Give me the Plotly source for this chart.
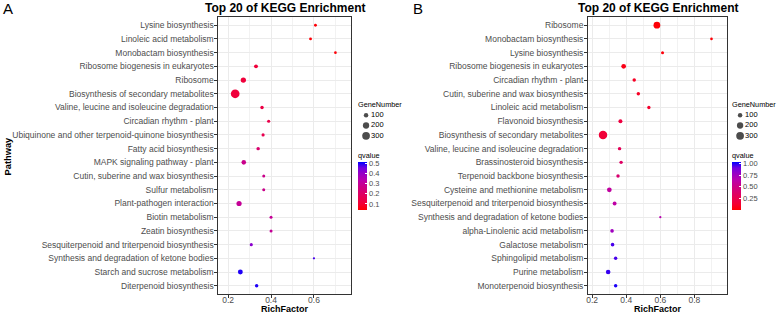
import plotly.graph_objects as go

W, H = 777, 315

# ---------------- data: panel A ----------------
a_pathways = [
    "Lysine biosynthesis",
    "Linoleic acid metabolism",
    "Monobactam biosynthesis",
    "Ribosome biogenesis in eukaryotes",
    "Ribosome",
    "Biosynthesis of secondary metabolites",
    "Valine, leucine and isoleucine degradation",
    "Circadian rhythm - plant",
    "Ubiquinone and other terpenoid-quinone biosynthesis",
    "Fatty acid biosynthesis",
    "MAPK signaling pathway - plant",
    "Cutin, suberine and wax biosynthesis",
    "Sulfur metabolism",
    "Plant-pathogen interaction",
    "Biotin metabolism",
    "Zeatin biosynthesis",
    "Sesquiterpenoid and triterpenoid biosynthesis",
    "Synthesis and degradation of ketone bodies",
    "Starch and sucrose metabolism",
    "Diterpenoid biosynthesis",
]
a_richfactor = [0.607, 0.584, 0.700, 0.330, 0.271, 0.233, 0.358, 0.389, 0.363, 0.340,
                0.273, 0.366, 0.366, 0.251, 0.400, 0.400, 0.308, 0.600, 0.257, 0.333]
a_genenumber = [40, 40, 35, 75, 140, 380, 60, 50, 50, 60,
                105, 45, 45, 135, 45, 45, 50, 25, 120, 60]
a_qvalue = [0.05, 0.05, 0.05, 0.12, 0.12, 0.12, 0.14, 0.15, 0.16, 0.22,
            0.28, 0.28, 0.28, 0.30, 0.30, 0.30, 0.42, 0.48, 0.50, 0.50]

# ---------------- data: panel B ----------------
b_pathways = [
    "Ribosome",
    "Monobactam biosynthesis",
    "Lysine biosynthesis",
    "Ribosome biogenesis in eukaryotes",
    "Circadian rhythm - plant",
    "Cutin, suberine and wax biosynthesis",
    "Linoleic acid metabolism",
    "Flavonoid biosynthesis",
    "Biosynthesis of secondary metabolites",
    "Valine, leucine and isoleucine degradation",
    "Brassinosteroid biosynthesis",
    "Terpenoid backbone biosynthesis",
    "Cysteine and methionine metabolism",
    "Sesquiterpenoid and triterpenoid biosynthesis",
    "Synthesis and degradation of ketone bodies",
    "alpha-Linolenic acid metabolism",
    "Galactose metabolism",
    "Sphingolipid metabolism",
    "Purine metabolism",
    "Monoterpenoid biosynthesis",
]
b_richfactor = [0.580, 0.900, 0.613, 0.385, 0.447, 0.471, 0.533, 0.366, 0.264, 0.361,
                0.370, 0.352, 0.301, 0.332, 0.600, 0.317, 0.320, 0.338, 0.294, 0.338]
b_genenumber = [230, 35, 45, 110, 60, 60, 55, 80, 360, 60,
                60, 60, 110, 75, 25, 65, 65, 60, 105, 60]
b_qvalue = [0.02, 0.02, 0.03, 0.06, 0.10, 0.10, 0.12, 0.20, 0.16, 0.30,
            0.35, 0.40, 0.60, 0.62, 0.66, 0.75, 0.95, 0.95, 0.97, 1.00]

# ---------------- legend / tick values ----------------
size_legend_values = [100, 200, 300]
size_legend_labels = ["100", "200", "300"]
a_q_ticks = [0.1, 0.2, 0.3, 0.4, 0.5]
b_q_ticks = [0.25, 0.50, 0.75, 1.00]
a_x_ticks = [0.2, 0.4, 0.6]
b_x_ticks = [0.2, 0.4, 0.6, 0.8]

# ---------------- styling ----------------
FONT = "Liberation Sans, Arial, sans-serif"
TXT = "#4D4D4D"
SIZEREF = 10.0
COLORSCALE = [[0.0, "#FF0000"], [0.125, "#F40031"], [0.25, "#E8004F"], [0.375, "#DA006C"],
              [0.5, "#CA0089"], [0.625, "#BB00AB"], [0.75, "#9A00C3"], [0.875, "#7300E0"],
              [1.0, "#0000FF"]]


def fx(p):
    return p / W


def fy(p):
    return 1 - p / H


fig = go.Figure()

fig.add_trace(go.Scatter(
    x=a_richfactor, y=a_pathways, mode="markers", xaxis="x", yaxis="y",
    marker=dict(size=a_genenumber, sizemode="area", sizeref=SIZEREF, color=a_qvalue,
                coloraxis="coloraxis", line=dict(width=0), opacity=1),
    showlegend=False))

fig.add_trace(go.Scatter(
    x=b_richfactor, y=b_pathways, mode="markers", xaxis="x2", yaxis="y2",
    marker=dict(size=b_genenumber, sizemode="area", sizeref=SIZEREF, color=b_qvalue,
                coloraxis="coloraxis2", line=dict(width=0), opacity=1),
    showlegend=False))

# size legends (drawn on small hidden axes)
for xa, ya in (("x3", "y3"), ("x4", "y4")):
    fig.add_trace(go.Scatter(
        x=[8] * len(size_legend_values), y=size_legend_labels, mode="markers",
        xaxis=xa, yaxis=ya,
        marker=dict(size=size_legend_values, sizemode="area", sizeref=SIZEREF,
                    color="black", line=dict(width=0)),
        showlegend=False, hoverinfo="skip"))
    fig.add_trace(go.Scatter(
        x=[13] * len(size_legend_values), y=size_legend_labels, mode="text",
        text=size_legend_labels, textposition="middle right",
        textfont=dict(size=7.5, color="black", family=FONT),
        xaxis=xa, yaxis=ya, showlegend=False, hoverinfo="skip"))


def main_xaxis(dom, rng, ticks, anchor):
    return dict(domain=dom, range=rng, anchor=anchor, tickvals=ticks,
                ticktext=[f"{t:.1f}" for t in ticks],
                showgrid=True, gridcolor="#EBEBEB", gridwidth=1,
                minor=dict(showgrid=True, gridcolor="#F2F2F2", gridwidth=0.6, dtick=0.1, tick0=0),
                zeroline=False, showline=True, linecolor="#333333", linewidth=1.2, mirror=True,
                ticks="outside", ticklen=2.5, tickcolor="#333333", tickwidth=1,
                ticklabelstandoff=-5,
                tickfont=dict(family=FONT, size=8.5, color=TXT))


def main_yaxis(dom, cats, anchor):
    return dict(domain=dom, anchor=anchor, type="category", categoryorder="array",
                categoryarray=cats, range=[len(cats) - 0.4, -0.6],
                showgrid=True, gridcolor="#EBEBEB", gridwidth=1,
                zeroline=False, showline=True, linecolor="#333333", linewidth=1.2, mirror=True,
                ticks="outside", ticklen=3, tickcolor="#333333", tickwidth=1,
                ticklabelstandoff=-1,
                tickfont=dict(family=FONT, size=8.5, color=TXT))


def legend_axes(x0):
    xa = dict(domain=[fx(x0), fx(x0 + 43)], range=[0, 43], visible=False, fixedrange=True)
    ya = dict(domain=[fy(141), fy(110)], type="category", categoryorder="array",
              categoryarray=size_legend_labels, range=[2.5, -0.5], visible=False, fixedrange=True)
    return xa, ya


def cbar(x0, ticks, fmt):
    return dict(x=fx(x0), xanchor="left", y=fy(162), yanchor="top",
                len=48, lenmode="pixels", thickness=9, thicknessmode="pixels",
                xpad=0, ypad=0, outlinewidth=0, tickvals=ticks, tickformat=fmt,
                ticks="inside", ticklen=2, tickcolor="white", tickwidth=1,
                tickfont=dict(family=FONT, size=7.5, color=TXT))


x3, y3 = legend_axes(357)
x4, y4 = legend_axes(732)

fig.update_layout(
    width=W, height=H, margin=dict(l=0, r=0, t=0, b=0),
    paper_bgcolor="white", plot_bgcolor="white",
    font=dict(family=FONT, color=TXT),
    xaxis=main_xaxis([fx(217), fx(350)], [0.155, 0.773], a_x_ticks, "y"),
    yaxis=main_yaxis([fy(294), fy(17)], a_pathways, "x"),
    xaxis2=main_xaxis([fx(587.7), fx(726.7)], [0.177, 0.99], b_x_ticks, "y2"),
    yaxis2=main_yaxis([fy(294), fy(17)], b_pathways, "x2"),
    xaxis3=dict(x3, anchor="y3"), yaxis3=dict(y3, anchor="x3"),
    xaxis4=dict(x4, anchor="y4"), yaxis4=dict(y4, anchor="x4"),
    coloraxis=dict(colorscale=COLORSCALE, cmin=0.04, cmax=0.516,
                   colorbar=cbar(357, a_q_ticks, ".1f")),
    coloraxis2=dict(colorscale=COLORSCALE, cmin=0.002, cmax=1.03,
                    colorbar=cbar(732, b_q_ticks, ".2f")),
    showlegend=False,
)

ann = []


def add_text(x, y, text, size, bold=False, color="black", xanchor="center", yanchor="middle", angle=0):
    ann.append(dict(x=fx(x), y=fy(y), xref="paper", yref="paper", text=f"<b>{text}</b>" if bold else text,
                    showarrow=False, xanchor=xanchor, yanchor=yanchor, textangle=angle,
                    borderpad=0, font=dict(family=FONT, size=size, color=color)))


add_text(6, 8, "A", 15)
add_text(417, 8, "B", 15)
add_text(283.5, 8, "Top 20 of KEGG Enrichment", 12, bold=True)
add_text(657.2, 8, "Top 20 of KEGG Enrichment", 12, bold=True)
add_text(283.5, 315, "RichFactor", 9.0, bold=True, yanchor="bottom")
add_text(657.2, 315, "RichFactor", 9.0, bold=True, yanchor="bottom")
add_text(6.5, 156, "Pathway", 9.3, bold=True, angle=-90)
add_text(356, 105, "GeneNumber", 7.3, xanchor="left")
add_text(731, 105, "GeneNumber", 7.3, xanchor="left")
add_text(356, 155, "qvalue", 7.3, xanchor="left")
add_text(731, 155, "qvalue", 7.3, xanchor="left")
fig.update_layout(annotations=ann)

fig.write_html("out.html", config={"displayModeBar": False},
               post_script="document.body.style.margin='0px';document.body.style.overflow='hidden';")
